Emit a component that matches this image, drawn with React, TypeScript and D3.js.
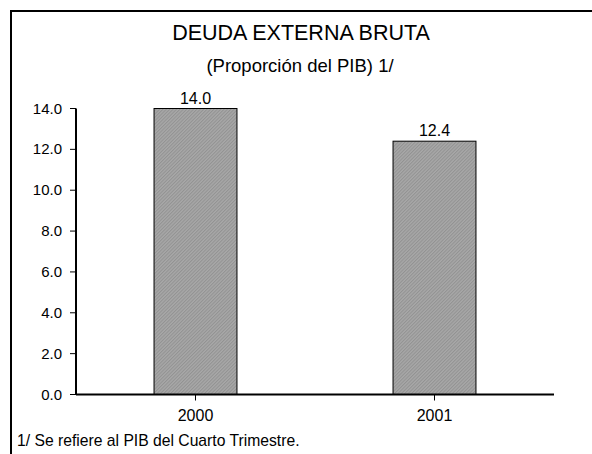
import React from "react";
import * as d3 from "d3";

const categories: string[] = ["2000", "2001"];
const values: number[] = [14.0, 12.4];
const yTicks: number[] = [0, 2, 4, 6, 8, 10, 12, 14];
const title = "DEUDA EXTERNA BRUTA";
const subtitle = "(Proporción del PIB) 1/";
const footnote = "1/ Se refiere al PIB del Cuarto Trimestre.";

const W = 592;
const H = 454;
const font = "Arial, 'Liberation Sans', Helvetica, sans-serif";

export default function App() {
  const x0 = 76, x1 = 554, yTop = 108.5, yBot = 394.5;
  const x = d3.scaleBand<string>().domain(categories).range([x0, x1]).paddingInner(0.653).paddingOuter(0.3265);
  const y = d3.scaleLinear().domain([0, 14]).range([yBot, yTop]);
  const bw = x.bandwidth();
  return (
    <svg width={W} height={H} style={{ position: "absolute", left: 0, top: 0, background: "#fff" }} fontFamily={font}>
      <defs>
        <pattern id="hatch" width="2.4" height="2.4" patternUnits="userSpaceOnUse" patternTransform="rotate(45)">
          <rect width="2.4" height="2.4" fill="#a8a8a8" />
          <rect width="1" height="2.4" fill="#929292" />
        </pattern>
      </defs>
      <rect x={0} y={0} width={W} height={H} fill="#fff" />
      <rect x={11} y={11} width={592} height={470} fill="none" stroke="#000" strokeWidth={2} />
      <text x={301} y={40} textAnchor="middle" fontSize={21.5} fill="#000">{title}</text>
      <text x={300} y={72} textAnchor="middle" fontSize={18.5} fill="#000">{subtitle}</text>
      {categories.map((c, i) => (
        <g key={c}>
          <rect x={x(c)!} y={y(values[i])} width={bw} height={yBot - y(values[i])} fill="url(#hatch)" stroke="#000" strokeWidth={1} />
          <text x={x(c)! + bw / 2} y={y(values[i]) - 5} textAnchor="middle" fontSize={16} fill="#000">{values[i].toFixed(1)}</text>
          <line x1={x(c)! + bw / 2} x2={x(c)! + bw / 2} y1={yBot} y2={yBot + 6} stroke="#000" strokeWidth={1} />
          <text x={x(c)! + bw / 2} y={421} textAnchor="middle" fontSize={16} fill="#000">{c}</text>
        </g>
      ))}
      {yTicks.map((t) => (
        <g key={t}>
          <line x1={x0 - 6} x2={x0} y1={y(t)} y2={y(t)} stroke="#000" strokeWidth={1} />
          <text x={62} y={y(t) + 5} textAnchor="end" fontSize={15} fill="#000">{t.toFixed(1)}</text>
        </g>
      ))}
      <line x1={x0} x2={x0} y1={yTop} y2={yBot} stroke="#000" strokeWidth={2} />
      <line x1={x0} x2={x1} y1={yBot} y2={yBot} stroke="#000" strokeWidth={2} />
      <text x={17} y={446} fontSize={15.7} fill="#000">{footnote}</text>
    </svg>
  );
}
